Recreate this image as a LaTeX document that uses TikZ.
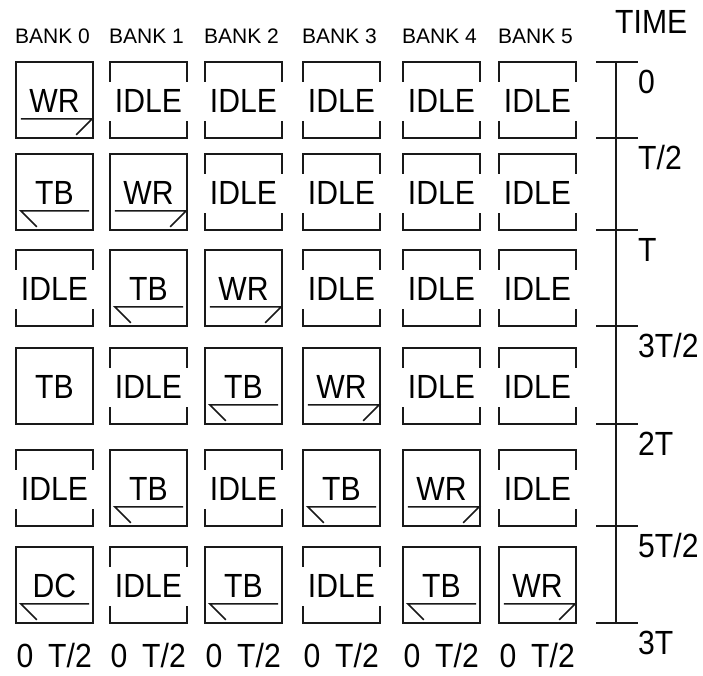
\documentclass[tikz,border=0pt]{standalone}
\usepackage{fontspec}
\newfontfamily\lblfont[FakeStretch=0.9]{Liberation Sans}
\newfontfamily\bankfont{Liberation Sans}
\usetikzlibrary{positioning}
\tikzset{
  cellnode/.style={minimum width=77pt, minimum height=76pt, inner sep=0pt, draw=none,
    text height=24pt, text depth=0pt, font=\lblfont\fontsize{33.5}{36}\selectfont},
  frameline/.style={line width=1.6pt, line join=miter, black!90},
  banklbl/.style={anchor=base, inner sep=0pt, font=\bankfont\fontsize{21}{24}\selectfont},
  biglbl/.style={inner sep=0pt, font=\lblfont\fontsize{33.5}{36}\selectfont},
}
\newcommand\mkcell[4]{\node[cellnode] (#1) at (#2+38.5,#3+38) {#4};}
\newcommand\fullframe[1]{\draw[frameline] (#1.north west) rectangle (#1.south east);}
\newcommand\idleframe[1]{%
  \draw[frameline] ([yshift=-20pt]#1.north west) -- (#1.north west) -- (#1.north east) -- ([yshift=-20pt]#1.north east);
  \draw[frameline] ([yshift=17pt]#1.south west) -- (#1.south west) -- (#1.south east) -- ([yshift=17pt]#1.south east);}
\newcommand\wrmark[1]{%
  \draw[frameline] ([xshift=5pt,yshift=-57pt]#1.north west) -- ([xshift=-1pt,yshift=-57pt]#1.north east) -- ([xshift=-17pt,yshift=-73pt]#1.north east);}
\newcommand\tbmark[1]{%
  \draw[frameline] ([xshift=-4pt,yshift=-57pt]#1.north east) -- ([xshift=5pt,yshift=-57pt]#1.north west) -- ([xshift=21pt,yshift=-73pt]#1.north west);}
\newcommand\cellW[3]{\mkcell{#1}{#2}{#3}{WR}\fullframe{#1}\wrmark{#1}}
\newcommand\cellT[3]{\mkcell{#1}{#2}{#3}{TB}\fullframe{#1}\tbmark{#1}}
\newcommand\cellP[3]{\mkcell{#1}{#2}{#3}{TB}\fullframe{#1}}
\newcommand\cellD[3]{\mkcell{#1}{#2}{#3}{DC}\fullframe{#1}\tbmark{#1}}
\newcommand\cellI[3]{\mkcell{#1}{#2}{#3}{IDLE}\idleframe{#1}}
\begin{document}
\begin{tikzpicture}[x=1pt,y=-1pt]
\useasboundingbox (0,0) rectangle (703,675);
\fill[white] (0,0) rectangle (703,675);
% bank labels
\foreach \c/\xl in {0/16,1/110,2/205,3/303,4/403,5/499}{
  \node[banklbl] (bank\c) at (\xl+36.5,43) {BANK \c};
  \node[biglbl, anchor=base west] (zero\c) at (\xl+0.5,667) {0};
  \node[biglbl, anchor=base east] (half\c) at (\xl+76,667) {T/2};
}
% row 0
\cellW{c00}{16}{62}\cellI{c01}{110}{62}\cellI{c02}{205}{62}\cellI{c03}{303}{62}\cellI{c04}{403}{62}\cellI{c05}{499}{62}
% row 1
\cellT{c10}{16}{154}\cellW{c11}{110}{154}\cellI{c12}{205}{154}\cellI{c13}{303}{154}\cellI{c14}{403}{154}\cellI{c15}{499}{154}
% row 2
\cellI{c20}{16}{250}\cellT{c21}{110}{250}\cellW{c22}{205}{250}\cellI{c23}{303}{250}\cellI{c24}{403}{250}\cellI{c25}{499}{250}
% row 3
\cellP{c30}{16}{348}\cellI{c31}{110}{348}\cellT{c32}{205}{348}\cellW{c33}{303}{348}\cellI{c34}{403}{348}\cellI{c35}{499}{348}
% row 4
\cellI{c40}{16}{450}\cellT{c41}{110}{450}\cellI{c42}{205}{450}\cellT{c43}{303}{450}\cellW{c44}{403}{450}\cellI{c45}{499}{450}
% row 5
\cellD{c50}{16}{547}\cellI{c51}{110}{547}\cellT{c52}{205}{547}\cellI{c53}{303}{547}\cellT{c54}{403}{547}\cellW{c55}{499}{547}
% time axis
\node[biglbl, anchor=base west] (time) at (615,33) {TIME};
\coordinate (tk0) at (616,62);
\coordinate (tk6) at (616,623);
\draw[frameline] (tk0) -- (tk6);
\foreach \i/\y/\t in {0/62/0,1/138/T\slash 2,2/230/T,3/326/3T\slash 2,4/424/2T,5/526/5T\slash 2,6/623/3T}{
  \coordinate (tick\i) at (616,\y);
  \draw[frameline] ([xshift=-20pt]tick\i) -- ([xshift=22pt]tick\i);
  \node[biglbl, anchor=base west] (tl\i) at (638,\y+31) {\t};
}
\end{tikzpicture}
\end{document}
